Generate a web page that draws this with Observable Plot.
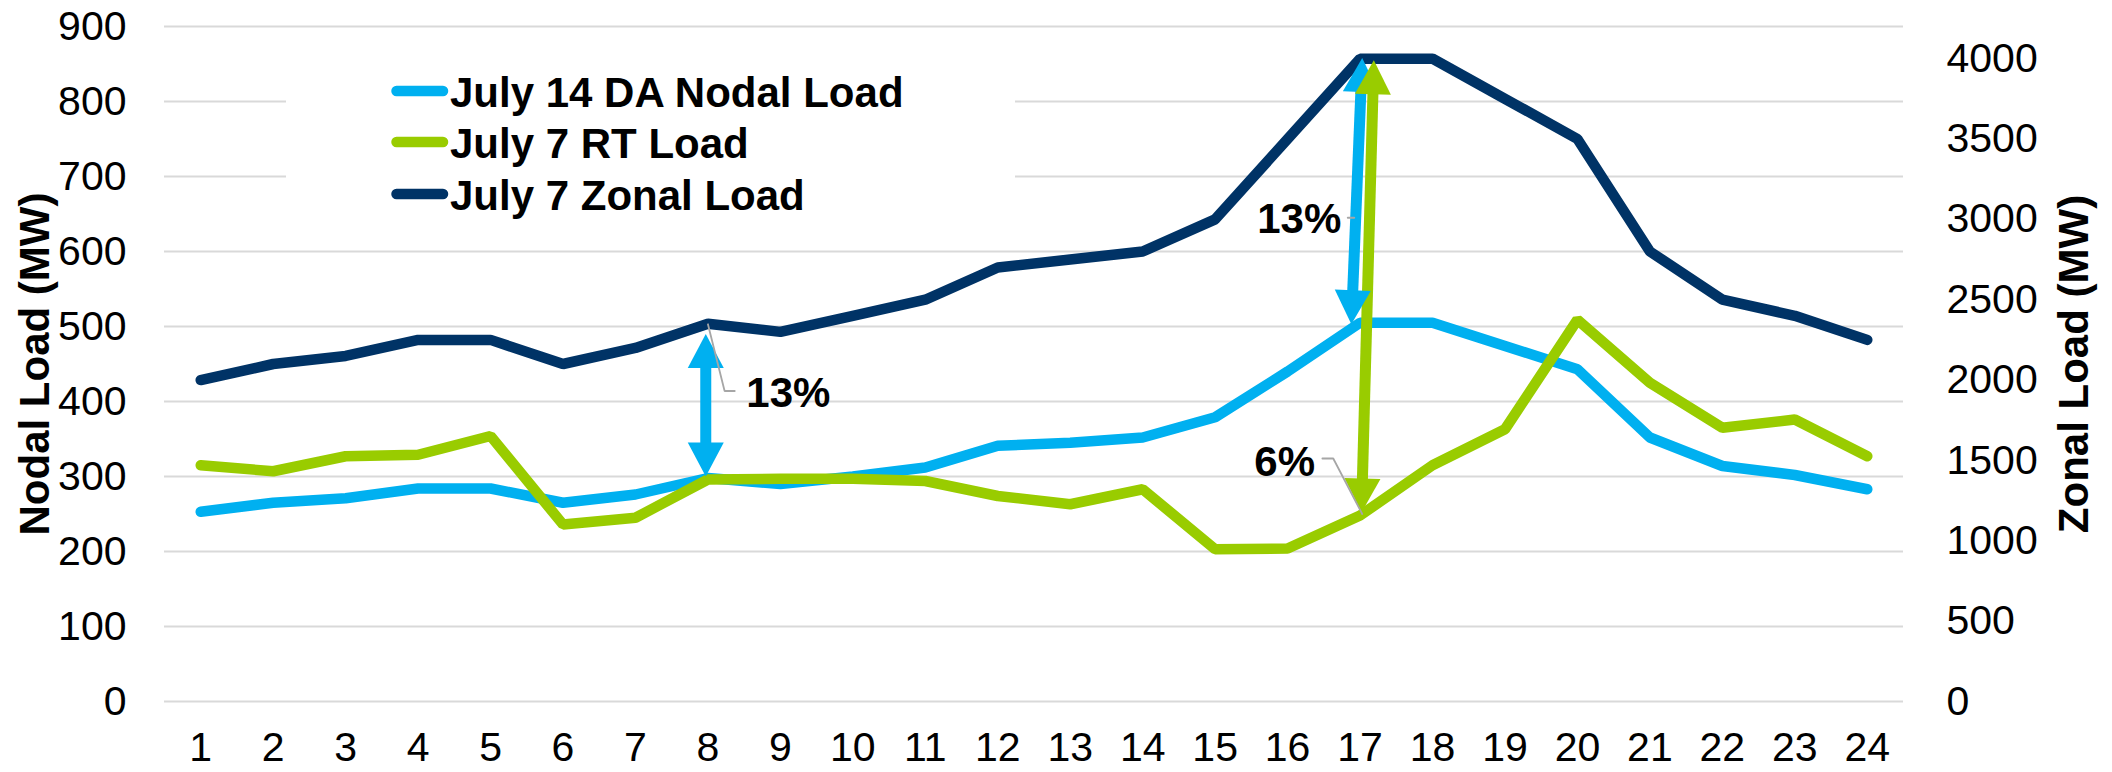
<!DOCTYPE html>
<html>
<head>
<meta charset="utf-8">
<script src="https://cdn.jsdelivr.net/npm/d3@7"></script>
<script src="https://cdn.jsdelivr.net/npm/@observablehq/plot@0.6"></script>
<style>
  html, body { margin: 0; padding: 0; background: #fff; }
  #wrap { position: relative; width: 2112px; height: 772px; }
  #legend { position: absolute; left: 286px; top: 45px; }
  text { font-family: "Liberation Sans", Arial, sans-serif; }
</style>
</head>
<body>
<div id="wrap"></div>
<script>
// ---- data ----
const hours = [1,2,3,4,5,6,7,8,9,10,11,12,13,14,15,16,17,18,19,20,21,22,23,24];
const daNodal = [253,265,271,284,284,265,276,298,290,300,312,341,345,352,379,440,505,505,474,443,352,314,302,283];
const rtLoad  = [315,307,327,329,354,236,245,296,297,297,294,274,263,283,203,204,248,315,363,509,425,365,376,327];
const zonalLoad = [2000,2100,2150,2250,2250,2100,2200,2350,2300,2400,2500,2700,2750,2800,3000,3500,4000,4000,3750,3500,2800,2500,2400,2250];
const seriesNames = ["July 14 DA Nodal Load", "July 7 RT Load", "July 7 Zonal Load"];
const seriesColors = ["#00B0F0", "#99CC00", "#003366"];
const leftTicks = [0,100,200,300,400,500,600,700,800,900];
const rightTicks = [0,500,1000,1500,2000,2500,3000,3500,4000];
const rightMax = 4200;
const leftMax = 900;

// annotation arrows (hour, left-axis MW)
const arrowColor = ["#00B0F0", "#00B0F0", "#99CC00"];
const arrowXLow  = [7.97, 16.88, 17.02];
const arrowYLow  = [300, 503, 252];
const arrowXHigh = [7.97, 17.03, 17.19];
const arrowYHigh = [490, 858, 855];

// annotation labels
const labelText = ["13%", "13%", "6%"];
const labelX = [8.53, 15.58, 15.54];
const labelY = [411, 643, 319];

// leader lines
const leaderId = ["a","a","a","b","b","c","c","c"];
const leaderX  = [8.0, 8.23, 8.37, 16.83, 16.92, 16.48, 16.63, 17.03];
const leaderY  = [503, 414, 414, 645, 645, 324, 324, 250];

// ---- layout ----
const W = 2112, H = 772;
const mL = 164, mR = 209, mT = 26, mB = 71;
const FONT = '"Liberation Sans", Arial, sans-serif';

const toLeft = v => v * leftMax / rightMax;
const rows = hours.map((h, i) => ({hour: h, da: daNodal[i], rt: rtLoad[i], zonal: toLeft(zonalLoad[i])}));

const pxX = (W - mL - mR) / 24, pxY = (H - mT - mB) / leftMax;
const arrows = arrowColor.map((c, i) => ({c, x1: arrowXLow[i], y1: arrowYLow[i], x2: arrowXHigh[i], y2: arrowYHigh[i]}));
const heads = [];
arrows.forEach(a => {
  const ang = Math.atan2((a.x2 - a.x1) * pxX, (a.y2 - a.y1) * pxY) * 180 / Math.PI;
  heads.push({x: a.x2, y: a.y2, rot: ang, c: a.c});
  heads.push({x: a.x1, y: a.y1, rot: 180 + ang, c: a.c});
});
const headSymbol = {draw(ctx) { ctx.moveTo(0, 0); ctx.lineTo(18, 34); ctx.lineTo(-18, 34); ctx.closePath(); }};
const labels = labelText.map((t, i) => ({t, x: labelX[i], y: labelY[i]}));
const leaders = leaderId.map((id, i) => ({id, x: leaderX[i], y: leaderY[i]}));

const lineOpts = {strokeWidth: 10.5, strokeLinecap: "round", strokeLinejoin: "miter"};

const plot = Plot.plot({
  width: W, height: H,
  marginLeft: mL, marginRight: mR, marginTop: mT, marginBottom: mB,
  style: {fontFamily: FONT, fontSize: "41px", color: "#000", background: "#fff", overflow: "visible"},
  x: {type: "linear", domain: [0.5, 24.5]},
  y: {domain: [0, leftMax]},
  marks: [
    Plot.gridY(leftTicks, {stroke: "#D9D9D9", strokeOpacity: 1, strokeWidth: 2}),
    Plot.axisX({ticks: hours, tickSize: 0, tickPadding: 30, tickFormat: d => String(d), label: null, fill: "#000"}),
    Plot.axisY({ticks: leftTicks, anchor: "left", tickSize: 0, tickPadding: 38, label: null, fill: "#000"}),
    Plot.axisY({ticks: rightTicks.map(toLeft), anchor: "right", tickSize: 0, tickPadding: 43, label: null, fill: "#000",
      tickFormat: d => String(Math.round(d * rightMax / leftMax))}),
    Plot.text(["Nodal Load (MW)"], {frameAnchor: "left", textAnchor: "middle", dx: -129, rotate: -90, fontWeight: "bold", fontSize: 42, fill: "#000"}),
    Plot.text(["Zonal Load (MW)"], {frameAnchor: "right", textAnchor: "middle", dx: 171, rotate: -90, fontWeight: "bold", fontSize: 42, fill: "#000"}),
    Plot.line(rows, {x: "hour", y: "da", stroke: seriesColors[0], ...lineOpts}),
    Plot.line(rows, {x: "hour", y: "rt", stroke: seriesColors[1], ...lineOpts}),
    Plot.line(rows, {x: "hour", y: "zonal", stroke: seriesColors[2], ...lineOpts}),
    Plot.arrow(arrows, {x1: "x1", y1: "y1", x2: "x2", y2: "y2", stroke: "c", strokeWidth: 11, headLength: 0, insetStart: 28, insetEnd: 28, strokeLinecap: "butt"}),
    Plot.dot(heads, {x: "x", y: "y", symbol: headSymbol, rotate: "rot", fill: "c", stroke: "none", r: 5}),
    Plot.line(leaders, {x: "x", y: "y", z: "id", stroke: "#A6A6A6", strokeWidth: 1.8, strokeLinejoin: "miter"}),
    Plot.text(labels, {x: "x", y: "y", text: "t", textAnchor: "start", fontWeight: "bold", fontSize: 42, fill: "#000"})
  ]
});

const wrap = document.getElementById("wrap");
wrap.appendChild(plot);

// ---- legend (overlay with white box) ----
const lg = d3.select(wrap).append("svg").attr("id", "legend").attr("width", 729).attr("height", 195);
lg.append("rect").attr("width", 729).attr("height", 195).attr("fill", "#fff");
const rowsY = [46, 97, 149];
seriesNames.forEach((name, i) => {
  lg.append("line").attr("x1", 110.5).attr("x2", 157).attr("y1", rowsY[i]).attr("y2", rowsY[i])
    .attr("stroke", seriesColors[i]).attr("stroke-width", 10.5).attr("stroke-linecap", "round");
  lg.append("text").attr("x", 164).attr("y", rowsY[i] + 15.5).attr("font-size", 42).attr("font-weight", "bold")
    .attr("fill", "#000").text(name);
});
</script>
</body>
</html>
